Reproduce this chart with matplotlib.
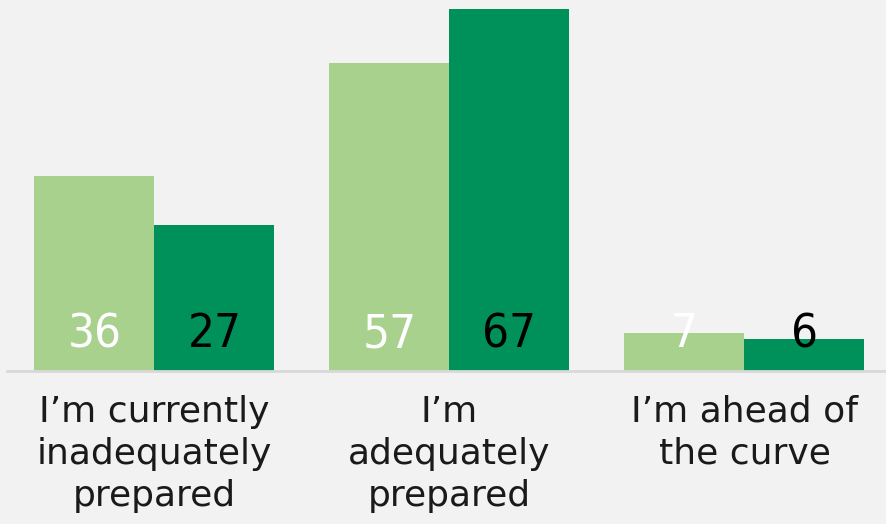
import matplotlib.pyplot as plt
import numpy as np

categories = ["I’m currently\ninadequately\nprepared", "I’m\nadequately\nprepared", "I’m ahead of\nthe curve"]
series_a = [36, 57, 7]
series_b = [27, 67, 6]

light = "#a9d18e"
dark = "#00915a"
bg = "#f2f2f2"

fig = plt.figure(figsize=(8.87, 5.24), dpi=100)
fig.patch.set_facecolor(bg)
ax = fig.add_axes([7 / 887, 153 / 524, 885 / 887, 371 / 524])
ax.set_facecolor(bg)

x = np.arange(len(categories))
w = 120 / 295
ax.bar(x - w / 2, series_a, w, color=light)
ax.bar(x + w / 2, series_b, w, color=dark)

# value labels sit at the foot of each bar
for i in range(len(categories)):
    ax.text(x[i] - w / 2, 4.4, str(series_a[i]), ha='center', va='baseline',
            color='white', fontsize=34, family='DejaVu Sans', fontstretch='condensed')
    ax.text(x[i] + w / 2, 4.4, str(series_b[i]), ha='center', va='baseline',
            color='black', fontsize=34, family='DejaVu Sans', fontstretch='condensed')

ax.set_xlim(-0.5, 2.5)
ax.set_ylim(0, 68.66)
ax.set_xticks(x)
ax.set_xticklabels(categories, fontsize=26, color='#1a1a1a', linespacing=1.3,
                   family='DejaVu Sans')
ax.tick_params(axis='x', length=0, pad=17)
ax.set_yticks([])
for s in ['top', 'left', 'right']:
    ax.spines[s].set_visible(False)
ax.spines['bottom'].set_color('#d9d9d9')
ax.spines['bottom'].set_linewidth(2)

fig.savefig('out.png', dpi=100, facecolor=bg)
